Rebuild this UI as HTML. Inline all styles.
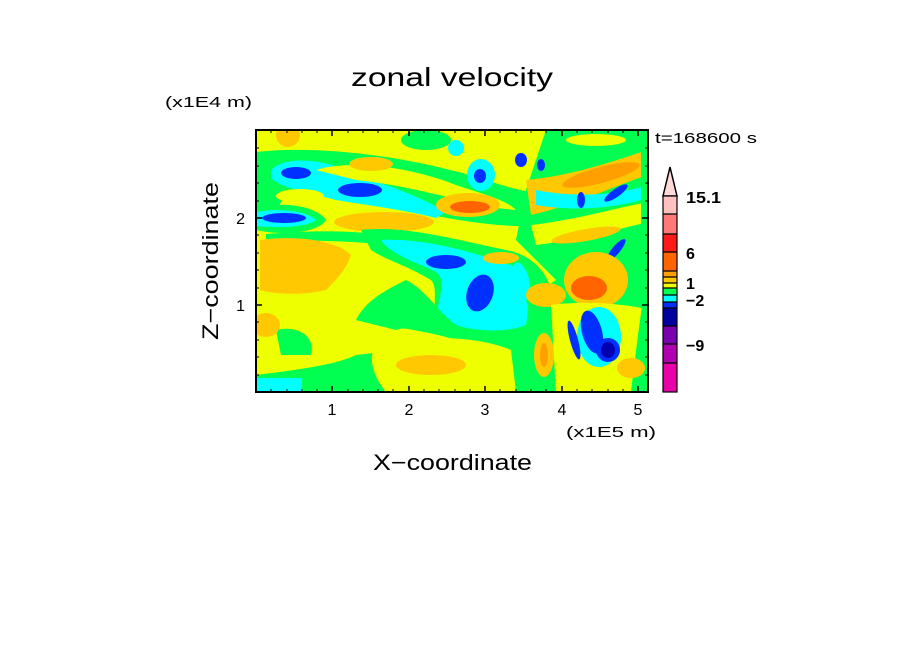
<!DOCTYPE html>
<html><head><style>
body{margin:0;background:#fff;}
svg text{font-family:"Liberation Sans",sans-serif;}
</style></head><body>
<svg width="904" height="654" xmlns="http://www.w3.org/2000/svg">
<rect width="904" height="654" fill="#fff"/>
<text x="351" y="86" font-size="26" fill="#000" textLength="202" lengthAdjust="spacingAndGlyphs">zonal velocity</text>
<text x="165" y="107" font-size="15" fill="#000" textLength="87" lengthAdjust="spacingAndGlyphs">(x1E4 m)</text>
<text x="655" y="143" font-size="15" fill="#000" textLength="102" lengthAdjust="spacingAndGlyphs">t=168600 s</text>
<text x="566" y="437" font-size="15" fill="#000" textLength="90" lengthAdjust="spacingAndGlyphs">(x1E5 m)</text>
<text x="373" y="470" font-size="22" fill="#000" textLength="159" lengthAdjust="spacingAndGlyphs">X−coordinate</text>
<text transform="translate(218,340) rotate(-90)" font-size="22" fill="#000" textLength="158" lengthAdjust="spacingAndGlyphs">Z−coordinate</text>
<g font-size="16" fill="#000" text-anchor="middle">
<text x="332" y="415">1</text><text x="409" y="415">2</text><text x="485" y="415">3</text><text x="562" y="415">4</text><text x="638" y="415">5</text>
</g>
<g font-size="16" fill="#000" text-anchor="end">
<text x="245" y="311">1</text><text x="245" y="224">2</text>
</g>
<svg x="256" y="130" width="392" height="262" viewBox="0 0 392 262">
<rect width="392" height="262" fill="#eeff00"/>
<ellipse cx="32" cy="5" rx="12" ry="12" fill="#ffc800"/>
<path d="M0,22 C60,15 150,25 230,50 C260,60 280,65 300,62 L300,95 C250,100 200,90 150,80 C100,70 60,60 30,65 L20,80 L0,82 Z" fill="#00ff50"/>
<path d="M15,40 C30,25 70,28 110,48 C150,62 170,70 190,82 L180,88 C150,80 110,75 80,70 C50,62 25,58 15,48 Z" fill="#00ffff"/>
<ellipse cx="40" cy="43" rx="15" ry="6" fill="#0030ff"/>
<ellipse cx="104" cy="60" rx="22" ry="7" fill="#0030ff"/>
<ellipse cx="44" cy="66" rx="24" ry="7" fill="#eeff00"/>
<path d="M60,40 C90,30 150,35 200,55 C230,65 250,70 260,80 L240,78 C200,70 150,55 100,50 Z" fill="#eeff00"/>
<ellipse cx="115" cy="34" rx="22" ry="7" fill="#ffc800"/>
<ellipse cx="212" cy="75" rx="32" ry="12" fill="#ffc800"/>
<ellipse cx="214" cy="77" rx="20" ry="6" fill="#ff6400"/>
<ellipse cx="225" cy="45" rx="14" ry="16" fill="#00ffff"/>
<ellipse cx="224" cy="46" rx="6" ry="7" fill="#0030ff"/>
<ellipse cx="170" cy="10" rx="25" ry="10" fill="#00ff50"/>
<ellipse cx="200" cy="18" rx="8" ry="8" fill="#00ffff"/>
<path d="M0,80 C20,70 60,75 70,90 C60,105 20,105 0,100 Z" fill="#00ff50"/>
<path d="M0,82 C20,78 50,80 60,90 C50,98 20,98 0,96 Z" fill="#00ffff"/>
<ellipse cx="28" cy="88" rx="22" ry="5" fill="#0030ff"/>
<ellipse cx="128" cy="92" rx="50" ry="10" fill="#ffc800"/>
<path d="M10,104 C60,100 110,100 140,108 L130,115 C90,110 40,110 10,112 Z" fill="#00ff50"/>
<path d="M4,110 C40,105 80,110 95,125 C90,140 80,150 70,160 C50,165 20,165 4,160 Z" fill="#ffc800"/>
<path d="M105,100 C150,95 200,110 250,120 C275,125 290,140 295,160 L290,200 C260,210 220,205 190,195 C170,185 185,160 175,150 C150,135 130,130 115,120 Z" fill="#00ff50"/>
<path d="M125,110 C170,108 215,122 255,135 C270,145 275,165 270,195 C245,205 205,200 185,190 C175,175 195,155 180,142 C160,132 135,125 125,110 Z" fill="#00ffff"/>
<ellipse cx="190" cy="132" rx="20" ry="7" fill="#0030ff"/>
<ellipse cx="224" cy="163" rx="13" ry="19" fill="#0030ff" transform="rotate(20 224 163)"/>
<ellipse cx="245" cy="128" rx="18" ry="6" fill="#ffc800"/>
<path d="M150,150 C170,160 180,180 200,195 C230,205 260,205 280,195 L300,262 L0,262 L0,245 C40,240 80,235 100,225 C130,222 180,215 200,210 C170,200 120,195 100,190 C110,170 130,160 150,150 Z" fill="#00ff50"/>
<path d="M100,190 C140,180 160,175 180,190 L140,200 Z" fill="#00ff50"/>
<path d="M20,200 C40,195 60,205 55,225 L25,225 Z" fill="#00ff50"/>
<path d="M120,215 C160,205 220,205 255,220 L260,262 L130,262 C120,250 110,230 120,215 Z" fill="#eeff00"/>
<ellipse cx="175" cy="235" rx="35" ry="10" fill="#ffc800"/>
<ellipse cx="10" cy="195" rx="14" ry="12" fill="#ffc800"/>
<rect x="0" y="248" width="46" height="14" fill="#00ffff"/>
<path d="M290,0 H392 V262 H300 L270,170 L300,150 L260,110 L270,60 Z" fill="#00ff50"/>
<path d="M270,50 C320,45 360,30 392,20 V45 C360,55 320,75 275,85 Z" fill="#ffc800"/>
<ellipse cx="345" cy="45" rx="40" ry="8" fill="#ffa000" transform="rotate(-15 345 45)"/>
<path d="M275,95 C320,90 360,78 392,72 V92 C360,100 320,110 280,115 Z" fill="#eeff00"/>
<ellipse cx="330" cy="105" rx="35" ry="6" fill="#ffc800" transform="rotate(-10 330 105)"/>
<path d="M280,60 C320,68 360,65 392,55 V68 C360,78 320,82 280,75 Z" fill="#00ffff"/>
<ellipse cx="360" cy="63" rx="14" ry="4" fill="#0030ff" transform="rotate(-35 360 63)"/>
<ellipse cx="325" cy="70" rx="4" ry="8" fill="#0030ff"/>
<ellipse cx="340" cy="10" rx="30" ry="6" fill="#eeff00"/>
<ellipse cx="265" cy="30" rx="6" ry="7" fill="#0030ff"/>
<ellipse cx="285" cy="35" rx="4" ry="6" fill="#0030ff"/>
<ellipse cx="360" cy="120" rx="14" ry="4" fill="#0030ff" transform="rotate(-50 360 120)"/>
<ellipse cx="265" cy="150" rx="8" ry="18" fill="#00ffff" transform="rotate(-15 265 150)"/>
<ellipse cx="340" cy="150" rx="32" ry="28" fill="#ffc800"/>
<ellipse cx="333" cy="158" rx="18" ry="12" fill="#ff6400"/>
<ellipse cx="290" cy="165" rx="20" ry="12" fill="#ffc800"/>
<path d="M295,175 C330,170 380,175 392,180 V262 H300 Z" fill="#eeff00"/>
<path d="M390,150 L392,140 V262 L375,262 C380,220 385,180 390,150 Z" fill="#00ff50"/>
<ellipse cx="343" cy="207" rx="22" ry="30" fill="#00ffff"/>
<ellipse cx="336" cy="202" rx="10" ry="22" fill="#0030ff" transform="rotate(-15 336 202)"/>
<ellipse cx="352" cy="220" rx="12" ry="12" fill="#0030ff"/>
<ellipse cx="352" cy="220" rx="7" ry="8" fill="#0000b0"/>
<ellipse cx="318" cy="210" rx="4" ry="20" fill="#0030ff" transform="rotate(-15 318 210)"/>
<ellipse cx="288" cy="225" rx="10" ry="22" fill="#ffc800"/>
<ellipse cx="288" cy="225" rx="4" ry="12" fill="#ffa000"/>
<ellipse cx="375" cy="238" rx="14" ry="10" fill="#ffc800"/>
<rect x="385" y="0" width="7" height="150" fill="#00ff50"/>
</svg>
<rect x="256" y="130" width="392" height="262" fill="none" stroke="#000" stroke-width="2"/>
<g stroke="#000" stroke-width="1.5">
<path d="M332,392v-6M409,392v-6M485,392v-6M562,392v-6M638,392v-6M332,130v6M409,130v6M485,130v6M562,130v6M638,130v6M256,305h6M256,218h6M648,305h-6M648,218h-6"/>
</g>
<g stroke="#000" stroke-width="1">
<path d="M271,392v-3M287,392v-3M302,392v-3M317,392v-3M348,392v-3M363,392v-3M378,392v-3M393,392v-3M424,392v-3M439,392v-3M455,392v-3M470,392v-3M500,392v-3M516,392v-3M531,392v-3M546,392v-3M577,392v-3M592,392v-3M608,392v-3M623,392v-3
M271,130v3M287,130v3M302,130v3M317,130v3M348,130v3M363,130v3M378,130v3M393,130v3M424,130v3M439,130v3M455,130v3M470,130v3M500,130v3M516,130v3M531,130v3M546,130v3M577,130v3M592,130v3M608,130v3M623,130v3
M256,375h3M256,357h3M256,340h3M256,322h3M256,288h3M256,270h3M256,253h3M256,235h3M256,201h3M256,183h3M256,166h3M256,148h3
M648,375h-3M648,357h-3M648,340h-3M648,322h-3M648,288h-3M648,270h-3M648,253h-3M648,235h-3M648,201h-3M648,183h-3M648,166h-3M648,148h-3"/>
</g>
<path d="M663,196 L670,167 L677,196 Z" fill="#ffd8d8" stroke="#000" stroke-width="1.5"/>
<rect x="663" y="196" width="14" height="18" fill="#ffc0c0"/>
<rect x="663" y="214" width="14" height="20" fill="#ff7878"/>
<rect x="663" y="234" width="14" height="18" fill="#ff1a1a"/>
<rect x="663" y="252" width="14" height="19" fill="#ff6400"/>
<rect x="663" y="271" width="14" height="6" fill="#ffa000"/>
<rect x="663" y="277" width="14" height="6" fill="#ffc800"/>
<rect x="663" y="283" width="14" height="5" fill="#eeff00"/>
<rect x="663" y="288" width="14" height="7" fill="#00ff50"/>
<rect x="663" y="295" width="14" height="7" fill="#00ffff"/>
<rect x="663" y="302" width="14" height="6" fill="#0030ff"/>
<rect x="663" y="308" width="14" height="18" fill="#0000a0"/>
<rect x="663" y="326" width="14" height="18" fill="#7800b0"/>
<rect x="663" y="344" width="14" height="19" fill="#b000b0"/>
<rect x="663" y="363" width="14" height="29" fill="#e800a8"/>
<g stroke="#000" stroke-width="1.2" fill="none">
<rect x="663" y="196" width="14" height="196"/>
<path d="M663,214h14M663,234h14M663,252h14M663,271h14M663,277h14M663,283h14M663,288h14M663,295h14M663,302h14M663,308h14M663,326h14M663,344h14M663,363h14"/>
</g>
<g font-size="16" fill="#000" font-weight="bold">
<text x="686" y="203" textLength="35" lengthAdjust="spacingAndGlyphs">15.1</text>
<text x="686" y="259">6</text>
<text x="686" y="289">1</text>
<text x="686" y="306">−2</text>
<text x="686" y="351">−9</text>
</g>
</svg>
</body></html>
